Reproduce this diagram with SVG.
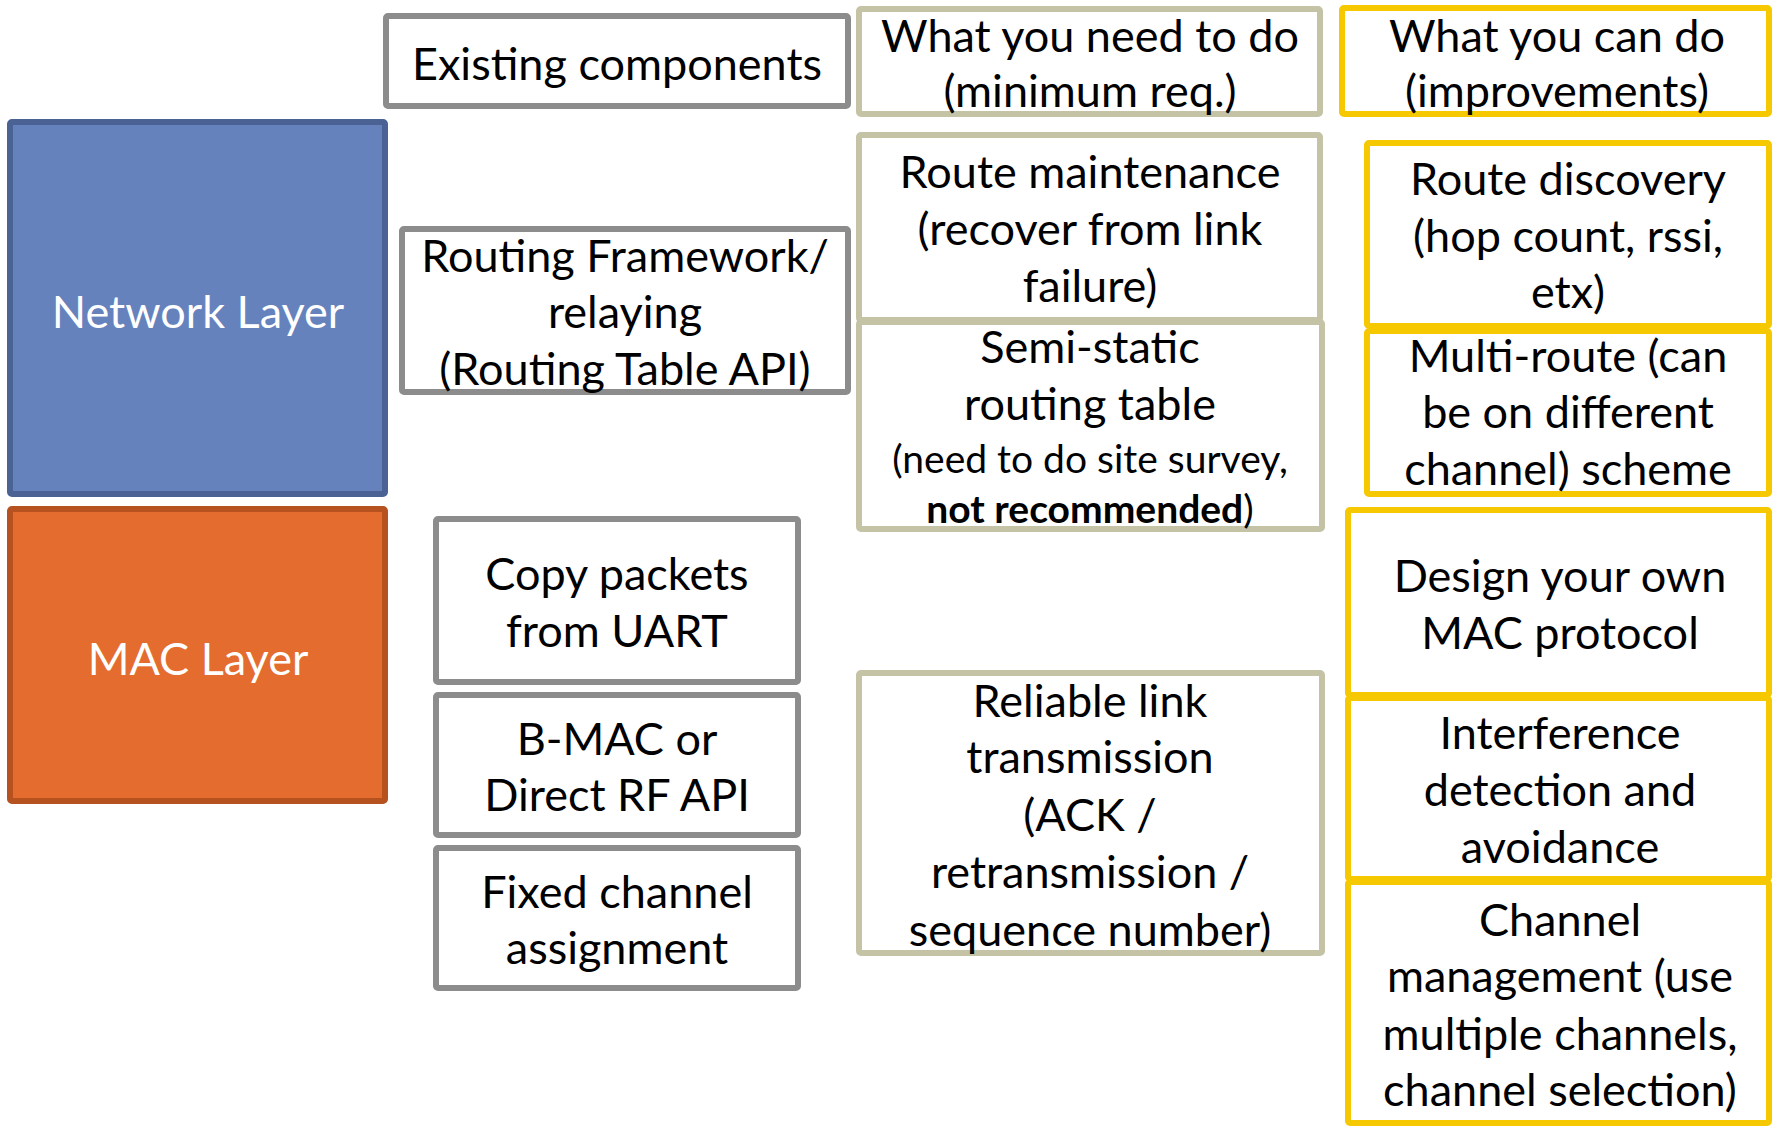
<svg xmlns="http://www.w3.org/2000/svg" width="1774" height="1129" viewBox="0 0 1774 1129">
<style>
  .t { font-family: Lato, "Open Sans", "Liberation Sans", sans-serif; font-size: 45px; fill: #000; text-anchor: middle; }
  .w { fill: #fff; }
  .s { font-size: 39px; }
  .b { font-weight: bold; }
  .gray { fill: #fff; stroke: #8c8c8c; stroke-width: 6; }
  .khaki { fill: #fff; stroke: #c4c3a6; stroke-width: 6; }
  .gold { fill: #fff; stroke: #f5c800; stroke-width: 6; }
  .net { fill: #6582bd; stroke: #4b6295; stroke-width: 6; }
  .mac { fill: #e46c2f; stroke: #b5521f; stroke-width: 6; }
</style>
<rect width="1774" height="1129" fill="#fff"/>
<g id="connectors"></g>

<g id="existing-components">
  <rect class="gray" x="386" y="16" width="462" height="90" rx="2"/>
  <text class="t" x="617" y="80">Existing components</text>
</g>
<g id="need-header">
  <rect class="khaki" x="859" y="9" width="461" height="105" rx="2"/>
  <text class="t" x="1090" y="52">What you need to do</text>
  <text class="t" x="1090" y="107">(minimum req.)</text>
</g>
<g id="can-header">
  <rect class="gold" x="1342" y="8" width="427" height="106" rx="2"/>
  <text class="t" x="1557" y="52">What you can do</text>
  <text class="t" x="1557" y="107">(improvements)</text>
</g>

<g id="network-layer">
  <rect class="net" x="10" y="122" width="375" height="372" rx="2"/>
  <text class="t w" x="198" y="328">Network Layer</text>
</g>
<g id="mac-layer">
  <rect class="mac" x="10" y="509" width="375" height="292" rx="2"/>
  <text class="t w" x="198" y="675">MAC Layer</text>
</g>

<g id="routing-framework">
  <rect class="gray" x="402" y="229" width="446" height="163" rx="2"/>
  <text class="t" x="625" y="272">Routing Framework/</text>
  <text class="t" x="625" y="328">relaying</text>
  <text class="t" x="625" y="385">(Routing Table API)</text>
</g>
<g id="copy-packets">
  <rect class="gray" x="436" y="519" width="362" height="163" rx="2"/>
  <text class="t" x="617" y="590">Copy packets</text>
  <text class="t" x="617" y="647">from UART</text>
</g>
<g id="bmac">
  <rect class="gray" x="436" y="695" width="362" height="140" rx="2"/>
  <text class="t" x="617" y="755">B-MAC or</text>
  <text class="t" x="617" y="811">Direct RF API</text>
</g>
<g id="fixed-channel">
  <rect class="gray" x="436" y="848" width="362" height="140" rx="2"/>
  <text class="t" x="617" y="908">Fixed channel</text>
  <text class="t" x="617" y="964">assignment</text>
</g>

<g id="route-maintenance">
  <rect class="khaki" x="859" y="135" width="461" height="185" rx="2"/>
  <text class="t" x="1090" y="188">Route maintenance</text>
  <text class="t" x="1090" y="245">(recover from link</text>
  <text class="t" x="1090" y="302">failure)</text>
</g>
<g id="semi-static">
  <rect class="khaki" x="859" y="322" width="463" height="207" rx="2"/>
  <text class="t" x="1090" y="363">Semi-static</text>
  <text class="t" x="1090" y="420">routing table</text>
  <text class="t s" x="1090" y="473">(need to do site survey,</text>
  <text class="t s" x="1090" y="523"><tspan class="b">not recommended</tspan>)</text>
</g>
<g id="reliable-link">
  <rect class="khaki" x="859" y="673" width="463" height="280" rx="2"/>
  <text class="t" x="1090" y="717">Reliable link</text>
  <text class="t" x="1090" y="773">transmission</text>
  <text class="t" x="1090" y="831">(ACK /</text>
  <text class="t" x="1090" y="888">retransmission /</text>
  <text class="t" x="1090" y="946">sequence number)</text>
</g>

<g id="route-discovery">
  <rect class="gold" x="1367" y="143" width="402" height="183" rx="2"/>
  <text class="t" x="1568" y="195">Route discovery</text>
  <text class="t" x="1568" y="252">(hop count, rssi,</text>
  <text class="t" x="1568" y="308">etx)</text>
</g>
<g id="multi-route">
  <rect class="gold" x="1367" y="331" width="402" height="163" rx="2"/>
  <text class="t" x="1568" y="372">Multi-route (can</text>
  <text class="t" x="1568" y="428">be on different</text>
  <text class="t" x="1568" y="485">channel) scheme</text>
</g>
<g id="design-mac">
  <rect class="gold" x="1348" y="510" width="421" height="185" rx="2"/>
  <text class="t" x="1560" y="592">Design your own</text>
  <text class="t" x="1560" y="649">MAC protocol</text>
</g>
<g id="interference">
  <rect class="gold" x="1348" y="698" width="421" height="181" rx="2"/>
  <text class="t" x="1560" y="749">Interference</text>
  <text class="t" x="1560" y="806">detection and</text>
  <text class="t" x="1560" y="863">avoidance</text>
</g>
<g id="channel-management">
  <rect class="gold" x="1348" y="882" width="421" height="241" rx="2"/>
  <text class="t" x="1560" y="936">Channel</text>
  <text class="t" x="1560" y="992">management (use</text>
  <text class="t" x="1560" y="1050">multiple channels,</text>
  <text class="t" x="1560" y="1106">channel selection)</text>
</g>
</svg>
